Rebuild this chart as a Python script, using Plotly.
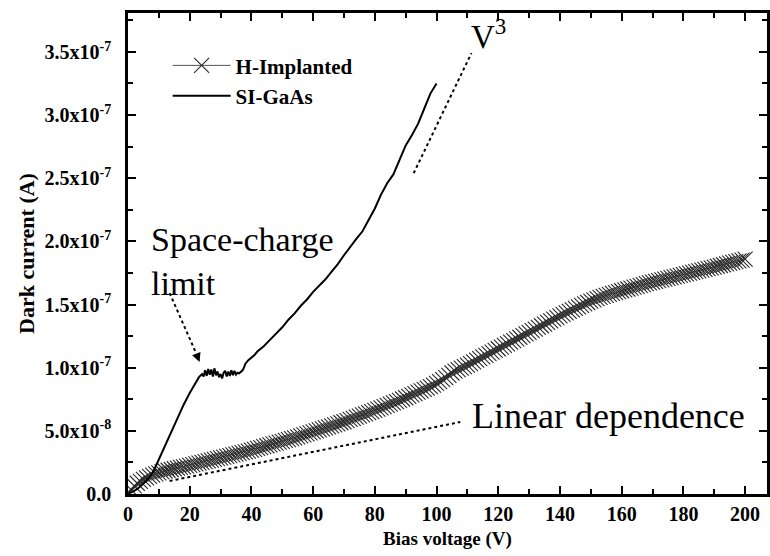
import plotly.graph_objects as go

# ---------------- data ----------------
h_voltage = list(range(0, 201))
h_current_e8 = [
    0.0,
    0.35, 0.65, 0.85, 1.0, 1.15, 1.28, 1.4, 1.5, 1.6, 1.68,
    1.75, 1.82, 1.88, 1.94, 2.0, 2.05, 2.1, 2.15, 2.2, 2.26,
    2.32, 2.38, 2.44, 2.5, 2.56, 2.62, 2.68, 2.74, 2.8, 2.86,
    2.92, 2.98, 3.04, 3.1, 3.16, 3.22, 3.28, 3.34, 3.4, 3.47,
    3.54, 3.61, 3.68, 3.75, 3.82, 3.89, 3.96, 4.03, 4.1, 4.17,
    4.24, 4.31, 4.38, 4.45, 4.52, 4.6, 4.68, 4.76, 4.84, 4.92,
    5.0, 5.08, 5.16, 5.24, 5.32, 5.4, 5.48, 5.56, 5.64, 5.72,
    5.81, 5.9, 5.99, 6.08, 6.17, 6.26, 6.35, 6.44, 6.53, 6.62,
    6.72, 6.82, 6.92, 7.02, 7.12, 7.22, 7.32, 7.42, 7.52, 7.62,
    7.73, 7.84, 7.95, 8.06, 8.17, 8.28, 8.39, 8.5, 8.62, 8.75,
    8.9, 9.05, 9.22, 9.4, 9.58, 9.72, 9.84, 9.96, 10.08, 10.2,
    10.33, 10.46, 10.59, 10.72, 10.85, 10.98, 11.11, 11.24, 11.37, 11.5,
    11.63, 11.76, 11.89, 12.02, 12.15, 12.28, 12.41, 12.54, 12.67, 12.8,
    12.93, 13.06, 13.19, 13.32, 13.45, 13.58, 13.71, 13.84, 13.97, 14.1,
    14.22, 14.34, 14.46, 14.58, 14.7, 14.82, 14.94, 15.05, 15.16, 15.27,
    15.37, 15.47, 15.56, 15.65, 15.73, 15.81, 15.88, 15.95, 16.02, 16.09,
    16.16, 16.23, 16.30, 16.37, 16.44, 16.51, 16.58, 16.65, 16.71, 16.77,
    16.83, 16.89, 16.95, 17.01, 17.07, 17.13, 17.19, 17.25, 17.31, 17.37,
    17.43, 17.49, 17.55, 17.61, 17.67, 17.73, 17.79, 17.85, 17.91, 17.97,
    18.03, 18.09, 18.15, 18.21, 18.27, 18.33, 18.39, 18.45, 18.52, 18.6,
]

si_voltage = [
    0, 1, 2, 3, 4, 5, 6, 7, 8, 9, 10, 12, 14, 16, 18, 20, 22, 23, 24,
    24.5, 25, 25.5, 26, 26.5, 27, 27.5, 28, 28.5, 29, 29.5, 30, 30.5, 31,
    31.5, 32, 32.5, 33, 33.5, 34, 34.5, 35, 35.5, 36, 36.5, 37, 37.5,
    38, 39, 40, 41, 42, 44, 46, 48, 50, 52, 54, 56, 58, 60, 62, 64, 66,
    68, 70, 72, 74, 76, 78, 80, 82, 84, 86, 88, 90, 92, 94, 96, 98, 100,
]
si_current_e8 = [
    0.0, 0.1, 0.25, 0.4, 0.6, 0.8, 1.05, 1.35, 1.7, 2.2, 2.75, 3.85, 4.95,
    6.0, 7.05, 8.0, 8.85, 9.25, 9.5,
    9.3, 9.8, 9.35, 9.9, 9.45, 9.85, 9.3, 9.95, 9.4, 9.7, 9.25, 9.5, 9.15,
    9.6, 9.75, 9.3, 9.7, 9.35, 9.8, 9.4, 9.75, 9.45, 9.6, 9.55, 9.65,
    9.75, 9.95,
    10.3, 10.6, 10.8, 11.0, 11.3, 11.7, 12.2, 12.7, 13.2, 13.8, 14.3, 14.9,
    15.4, 16.0, 16.5, 17.0, 17.6, 18.2, 18.9, 19.6, 20.2, 20.8, 21.7, 22.6,
    23.7, 24.6, 25.3, 26.5, 27.6, 28.4, 29.3, 30.5, 31.7, 32.5,
]

h_current = [v * 1e-8 for v in h_current_e8]
si_current = [v * 1e-8 for v in si_current_e8]

y_tickvals = [0, 5e-8, 1e-7, 1.5e-7, 2e-7, 2.5e-7, 3e-7, 3.5e-7]
y_ticktext = ["0.0", "5.0x10<sup>-8</sup>", "1.0x10<sup>-7</sup>", "1.5x10<sup>-7</sup>",
              "2.0x10<sup>-7</sup>", "2.5x10<sup>-7</sup>", "3.0x10<sup>-7</sup>",
              "3.5x10<sup>-7</sup>"]
x_tickvals = list(range(0, 201, 20))

# guide lines (annotations)
v3_line_x = [92.6, 111.3]
v3_line_y = [2.54e-7, 3.49e-7]
lin_line_x = [13.5, 107.7]
lin_line_y = [1.03e-8, 5.7e-8]
arrow_x = [13.5, 22.0]
arrow_y = [1.59e-7, 1.12e-7]

FONT = "Liberation Serif"

fig = go.Figure()

fig.add_trace(go.Scatter(
    x=h_voltage, y=h_current, mode="lines+markers", name="<b>H-Implanted</b>",
    line=dict(color="#555555", width=1),
    marker=dict(symbol="x-thin-open", size=15, line=dict(width=1.1, color="#2a2a2a"),
                color="#2a2a2a"),
))
fig.add_trace(go.Scatter(
    x=si_voltage, y=si_current, mode="lines", name="<b>SI-GaAs</b>",
    line=dict(color="black", width=2),
))

for xs, ys in [(v3_line_x, v3_line_y), (lin_line_x, lin_line_y), (arrow_x, arrow_y)]:
    fig.add_trace(go.Scatter(x=xs, y=ys, mode="lines", showlegend=False,
                             line=dict(color="black", width=2, dash="dot"),
                             hoverinfo="skip"))

fig.add_annotation(x=23.2, y=1.045e-7, ax=arrow_x[1], ay=arrow_y[1],
                   xref="x", yref="y", axref="x", ayref="y", text="",
                   showarrow=True, arrowhead=2, arrowsize=1.2, arrowwidth=1.5,
                   arrowcolor="black")

fig.add_annotation(x=6.8, y=1.84e-7, xref="x", yref="y", text="Space-charge<br>limit",
                   showarrow=False, xanchor="left", align="left",
                   font=dict(family=FONT, size=34, color="black"))
fig.add_annotation(x=111, y=6.2e-8, xref="x", yref="y", text="Linear dependence",
                   showarrow=False, xanchor="left",
                   font=dict(family=FONT, size=36, color="black"))
fig.add_annotation(x=110.5, y=3.64e-7, xref="x", yref="y", text="V<sup>3</sup>",
                   showarrow=False, xanchor="left",
                   font=dict(family=FONT, size=33, color="black"))

axis_common = dict(
    showline=True, linecolor="black", linewidth=2.5, mirror="ticks",
    ticks="inside", tickwidth=2, ticklen=8, tickcolor="black",
    showgrid=False, zeroline=False,
    tickfont=dict(family=FONT, size=20, color="black", weight="bold"),
)

fig.update_xaxes(
    range=[0, 207.1], tickvals=x_tickvals,
    minor=dict(ticks="inside", ticklen=5, tickwidth=2, tickcolor="black", dtick=10,
               tick0=0, showgrid=False),
    title=dict(text="<b>Bias voltage (V)</b>", font=dict(family=FONT, size=19, color="black"),
               standoff=8),
    **axis_common,
)
fig.update_yaxes(
    range=[0, 3.808e-7], tickvals=y_tickvals, ticktext=y_ticktext,
    ticklabelstandoff=10,
    minor=dict(ticks="inside", ticklen=5, tickwidth=2, tickcolor="black", dtick=2.5e-8,
               tick0=0, showgrid=False),
    title=dict(text="<b>Dark current (A)</b>", font=dict(family=FONT, size=22, color="black"),
               standoff=4),
    **axis_common,
)

fig.update_layout(
    width=770, height=556,
    margin=dict(l=128, r=0, t=13, b=62),
    plot_bgcolor="white", paper_bgcolor="white",
    legend=dict(x=0.062, y=0.933, xanchor="left", yanchor="top",
                bgcolor="rgba(0,0,0,0)", font=dict(family=FONT, size=21, color="black"),
                itemwidth=58, tracegroupgap=0),
    font=dict(family=FONT, color="black"),
)

fig.write_html("out.html")
